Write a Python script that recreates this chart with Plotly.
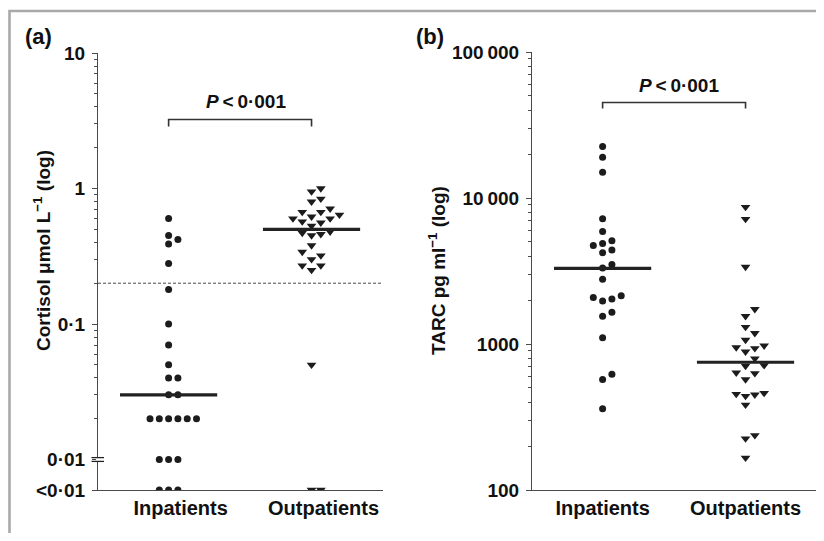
import numpy as np
import plotly.graph_objects as go

# ---------------- data ----------------
groups = ["Inpatients", "Outpatients"]

cortisol_in = [0.60, 0.45, 0.42, 0.39, 0.28, 0.18, 0.10, 0.07, 0.05, 0.04, 0.04,
               0.03, 0.03, 0.02, 0.02, 0.02, 0.02, 0.02, 0.02, 0.01, 0.01, 0.01,
               "<0.01", "<0.01", "<0.01"]
cortisol_out = [1.00, 0.95, 0.84, 0.80, 0.71, 0.67, 0.67, 0.64, 0.62, 0.60, 0.60,
                0.57, 0.56, 0.53, 0.48, 0.47, 0.46, 0.45, 0.38, 0.34, 0.32, 0.30,
                0.27, 0.27, 0.25, 0.05, "<0.01", "<0.01"]
cortisol_median = [0.03, 0.50]
cortisol_cutoff = 0.2

tarc_in = [22500, 19000, 15000, 7200, 5900, 5100, 4870, 4720, 4400, 4220, 3500,
           3320, 2780, 2143, 2085, 2032, 1967, 1652, 1550, 1102, 620, 572, 360]
tarc_out = [8660, 7180, 3370, 1730, 1550, 1306, 1186, 1067, 973, 948, 934, 885,
            795, 714, 707, 636, 630, 572, 461, 454, 450, 440, 383, 237, 225, 166]
tarc_median = [3300, 750]

cortisol_ticks = ["<0·01", "0·01", "0·1", "1", "10"]
tarc_ticks = ["100", "1000", "10\u2009000", "100\u2009000"]
p_text = "<i>P</i>\u2009&lt;\u20090·001"

# ---------------- layout constants ----------------
# The page body keeps its default 8 px margin, so the figure is 16 px smaller
# than the 824x541 window and reference pixel positions are shifted by 8 px.
PAGE_W, PAGE_H, BODY = 824, 541, 8
W, H = PAGE_W - 2 * BODY, PAGE_H - 2 * BODY
def px(x):
    return min(max((x - BODY) / W, 0.0), 1.0)
def py(y):
    return min(max(1 - (y - BODY) / H, 0.0), 1.0)

FONT = "Liberation Sans"
INK = "#1c1c1c"
AX = "#4a4a4a"

XR = [-0.494, 1.5]
XR_B = [-0.494, 1.493]
a_lo, a_hi = -2.225, 1.0          # log10 range, panel a
b_lo, b_hi = 2.0, 5.0             # log10 range, panel b
a_dom = [py(490), py(53)]
b_dom = [py(490), py(52)]
a_xdom = [px(98), px(383)]
b_xdom = [px(532), px(816)]

below_val = 10 ** a_lo

def to_num(v):
    return below_val if isinstance(v, str) else float(v)

def swarm(vals, lo, hi, dom, xdom, xr, slot_px=9.3, thresh=8.0):
    logs = np.log10(np.array(vals, dtype=float))
    ppd = (dom[1] - dom[0]) * H / (hi - lo)
    ppx = (xdom[1] - xdom[0]) * W / (xr[1] - xr[0])
    order = np.argsort(logs, kind="stable")
    slots = [0, 1, -1, 2, -2, 3, -3, 4, -4, 5, -5]
    placed = []
    off = np.zeros(len(vals))
    for i in order:
        y = logs[i] * ppd
        for s in slots:
            if all(abs(y - yp) >= thresh for sp, yp in placed if sp == s):
                off[i] = s
                placed.append((s, y))
                break
    return off * slot_px / ppx

fig = go.Figure()

def add_group(vals, gi, symbol, size, xa, ya, lo, hi, dom, xdom, xr):
    v = [to_num(t) for t in vals]
    off = swarm(v, lo, hi, dom, xdom, xr)
    fig.add_trace(go.Scatter(
        x=gi + off, y=v, mode="markers", xaxis=xa, yaxis=ya,
        marker=dict(symbol=symbol, size=size, color=INK, line=dict(width=0)),
        showlegend=False, hoverinfo="skip"))

add_group(cortisol_in, 0, "circle", 7, "x", "y", a_lo, a_hi, a_dom, a_xdom, XR)
add_group(cortisol_out, 1, "triangle-down", 8.5, "x", "y", a_lo, a_hi, a_dom, a_xdom, XR)
add_group(tarc_in, 0, "circle", 7, "x2", "y2", b_lo, b_hi, b_dom, b_xdom, XR_B)
add_group(tarc_out, 1, "triangle-down", 8.5, "x2", "y2", b_lo, b_hi, b_dom, b_xdom, XR_B)

HALF = 0.34
for gi, m in enumerate(cortisol_median):
    fig.add_trace(go.Scatter(x=[gi - HALF, gi + HALF], y=[m, m], mode="lines",
                             xaxis="x", yaxis="y", line=dict(color="#222", width=3.2),
                             showlegend=False, hoverinfo="skip"))
for gi, m in enumerate(tarc_median):
    fig.add_trace(go.Scatter(x=[gi - HALF, gi + HALF], y=[m, m], mode="lines",
                             xaxis="x2", yaxis="y2", line=dict(color="#222", width=3.2),
                             showlegend=False, hoverinfo="skip"))

tickfont = dict(family=FONT, size=19, color="#111", weight="bold")
catfont = dict(family=FONT, size=20, color="#111", weight="bold")

def minor_vals(d0, d1):
    return [m * 10 ** d for d in range(d0, d1) for m in range(2, 10)]

xcommon = dict(tickmode="array", tickvals=[0, 1], ticktext=groups,
               showline=True, linecolor=AX, linewidth=1.2, ticks="",
               showgrid=False, zeroline=False, tickfont=catfont, fixedrange=True,
               automargin=False)
ycommon = dict(type="log", tickmode="array", ticks="outside", ticklen=5,
               tickcolor=AX, tickwidth=1.2, showline=True, linecolor=AX, linewidth=1.2,
               showgrid=False, zeroline=False, tickfont=tickfont, fixedrange=True,
               ticklabelstandoff=3, automargin=False)

fig.update_layout(
    width=W, height=H, margin=dict(l=0, r=0, t=0, b=0, autoexpand=False),
    paper_bgcolor="white", plot_bgcolor="white",
    xaxis=dict(domain=a_xdom, anchor="y", range=XR, ticklabelshift=12, **xcommon),
    yaxis=dict(domain=a_dom, anchor="x", range=[a_lo, a_hi],
               tickvals=[below_val, 0.01, 0.1, 1, 10], ticktext=cortisol_ticks,
               minor=dict(tickvals=minor_vals(-2, 1), ticks="outside", ticklen=3,
                          tickcolor=AX, tickwidth=1), **ycommon),
    xaxis2=dict(domain=b_xdom, anchor="y2", range=XR_B, **xcommon),
    yaxis2=dict(domain=b_dom, anchor="x2", range=[b_lo, b_hi],
                tickvals=[100, 1000, 10000, 100000], ticktext=tarc_ticks,
                minor=dict(tickvals=minor_vals(2, 5), ticks="outside", ticklen=3,
                           tickcolor=AX, tickwidth=1), **ycommon),
)

shapes = []
# frame (left and top edges)
shapes.append(dict(type="path", xref="paper", yref="paper",
                   path=f"M {px(9.5)} {py(545)} L {px(9.5)} {py(11)} L {px(830)} {py(11)}",
                   line=dict(color="#a9a9a9", width=2.6)))
# cutoff line (panel a)
fc = (np.log10(cortisol_cutoff) - a_lo) / (a_hi - a_lo)
shapes.append(dict(type="line", xref="x domain", yref="y domain", x0=0, x1=1, y0=fc, y1=fc,
                   line=dict(color="#333", width=0.9, dash="3px,2px")))
# axis break at 0.01 (panel a)
f01 = (np.log10(0.01) - a_lo) / (a_hi - a_lo)
y01 = a_dom[0] + f01 * (a_dom[1] - a_dom[0])
gap = 1.9 / H
shapes.append(dict(type="rect", xref="paper", yref="paper", x0=px(96), x1=px(100.5),
                   y0=y01 - gap, y1=y01 + gap, fillcolor="white", line=dict(width=0)))
for s in (-1, 1):
    shapes.append(dict(type="line", xref="paper", yref="paper", x0=px(91.5), x1=px(104),
                       y0=y01 + s * gap, y1=y01 + s * gap, line=dict(color="#222", width=1.3)))
# significance brackets
for xr, yb, yt in (("x", 119.5, 126.5), ("x2", 102.5, 108.5)):
    shapes.append(dict(type="path", xref=xr, yref="paper",
                       path=f"M 0 {py(yt)} L 0 {py(yb)} L 1 {py(yb)} L 1 {py(yt)}",
                       line=dict(color="#333", width=1.6)))
fig.update_layout(shapes=shapes)

ann = []
labfont = dict(family=FONT, size=19, color="#111", weight="bold")
panfont = dict(family=FONT, size=22, color="#111", weight="bold")
common = dict(xref="paper", yref="paper", showarrow=False, xanchor="center", yanchor="middle")
ann.append(dict(text="(a)", x=px(38), y=py(37), font=panfont, **common))
ann.append(dict(text="(b)", x=px(430), y=py(37), font=panfont, **common))
ann.append(dict(text=p_text, x=px(246), y=py(101), font=labfont, **common))
ann.append(dict(text=p_text, x=px(679), y=py(85), font=labfont, **common))
ann.append(dict(text="Cortisol \u03bcmol L<sup>\u22121</sup> (log)", x=px(42), y=py(251),
                textangle=-90, font=labfont, **common))
ann.append(dict(text="TARC pg ml<sup>\u22121</sup> (log)", x=px(437), y=py(271),
                textangle=-90, font=labfont, **common))
fig.update_layout(annotations=ann)

fig.write_html("out.html")
